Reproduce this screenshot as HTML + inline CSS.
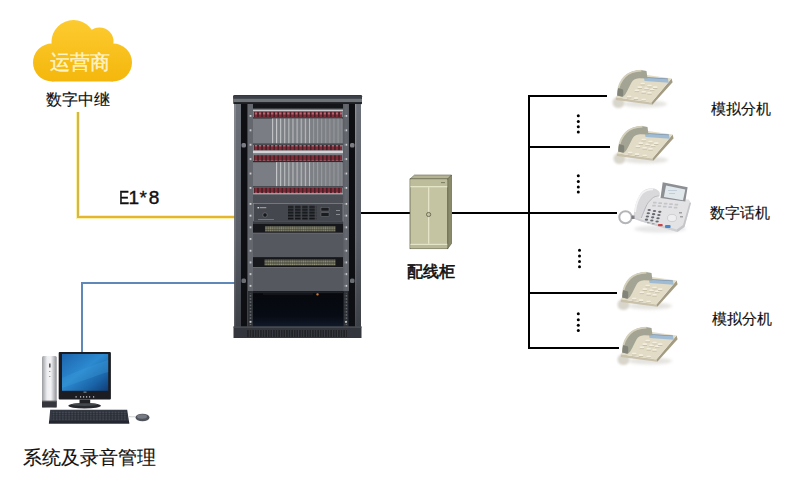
<!DOCTYPE html>
<html><head><meta charset="utf-8">
<style>
html,body{margin:0;padding:0;background:#fff;width:793px;height:478px;overflow:hidden}
body{position:relative;font-family:"Liberation Sans",sans-serif}
svg{position:absolute;left:0;top:0}
.t{position:absolute;white-space:nowrap;line-height:1;color:#111;-webkit-text-stroke:0.15px #111}
</style></head><body>
<svg width="793" height="478" viewBox="0 0 793 478">
<defs>
  <linearGradient id="cloudg" gradientUnits="userSpaceOnUse" x1="0" y1="20" x2="0" y2="82">
    <stop offset="0" stop-color="#fdcb30"/>
    <stop offset="1" stop-color="#f4b70c"/>
  </linearGradient>

  <pattern id="ports" patternUnits="userSpaceOnUse" x="254" y="0" width="4.05" height="8">
    <rect width="4.05" height="8" fill="#2e161b"/>
    <rect x="0.5" y="0" width="3" height="8" fill="#7e2c38"/>
    <rect x="0.9" y="0.5" width="2.2" height="2" fill="#b86a76"/>
  </pattern>
  <pattern id="cards" patternUnits="userSpaceOnUse" x="272" y="0" width="4.1" height="10">
    <rect width="4.1" height="10" fill="#7d8085"/>
    <rect x="0" width="1" height="10" fill="#c4c6c9"/>
  </pattern>
  <pattern id="cards2" patternUnits="userSpaceOnUse" x="272" y="0" width="4.1" height="10">
    <rect width="4.1" height="10" fill="#7d8085"/>
    <rect x="0" width="1" height="10" fill="#9a9ca0"/>
  </pattern>
  <pattern id="holes" patternUnits="userSpaceOnUse" x="0" y="115" width="3" height="14.4">
    <rect width="3" height="14.4" fill="#64676d"/>
    <rect x="0.6" y="0" width="1.8" height="1.8" fill="#d0d2d5"/>
  </pattern>
  <pattern id="holes2" patternUnits="userSpaceOnUse" x="0" y="291" width="3" height="3.2">
    <rect width="3" height="3.2" fill="#2e3136"/>
    <rect x="0.7" y="0.9" width="1.6" height="1.4" fill="#6a6d72"/>
  </pattern>
  <pattern id="vents" patternUnits="userSpaceOnUse" x="288" y="205.5" width="7.1" height="2.9">
    <rect width="7.1" height="2.9" fill="#44474d"/>
    <rect x="0" y="0.6" width="5.6" height="1.8" fill="#111316"/>
  </pattern>
  <pattern id="jacks" patternUnits="userSpaceOnUse" x="265" y="0" width="2.2" height="2.8">
    <rect width="2.2" height="2.8" fill="#3a3b34"/>
    <rect x="0.3" y="0.4" width="1.6" height="1.8" fill="#9a9a80"/>
  </pattern>
  <pattern id="slats" patternUnits="userSpaceOnUse" x="247" y="0" width="2.6" height="7">
    <rect width="2.6" height="7" fill="#3a3d43"/>
    <rect x="0.3" width="1.2" height="7" fill="#16181b"/>
  </pattern>
  <filter id="blur1" x="-50%" y="-50%" width="200%" height="200%"><feGaussianBlur stdDeviation="1"/></filter>
  <filter id="blur2" x="-50%" y="-50%" width="200%" height="200%"><feGaussianBlur stdDeviation="1.8"/></filter>
  <linearGradient id="towerg" x1="0" y1="0" x2="1" y2="0">
    <stop offset="0" stop-color="#9a9ca1"/><stop offset="0.35" stop-color="#eeeff1"/><stop offset="0.6" stop-color="#f4f4f6"/><stop offset="1" stop-color="#8d8f94"/>
  </linearGradient>
  <linearGradient id="screeng" x1="0" y1="0" x2="1" y2="1">
    <stop offset="0" stop-color="#1d64ad"/><stop offset="0.45" stop-color="#2c8ad0"/><stop offset="0.75" stop-color="#1a64a8"/><stop offset="1" stop-color="#0f3d78"/>
  </linearGradient>
  <pattern id="keysp" patternUnits="userSpaceOnUse" x="52" y="411.5" width="3.1" height="2.2">
    <rect width="3.1" height="2.2" fill="#22252c"/>
    <rect x="0.4" y="0.3" width="2.3" height="1.5" fill="#474b55"/>
  </pattern>
  <pattern id="softk" patternUnits="userSpaceOnUse" x="650" y="202" width="4.5" height="3">
    <rect width="4.5" height="3" fill="#dcdde0"/><rect x="0.5" y="0.4" width="3" height="1.2" fill="#a8aaae"/>
  </pattern>
  <pattern id="holesb" patternUnits="userSpaceOnUse" x="0" y="203" width="3" height="11.7">
    <rect width="3" height="11.7" fill="#64676d"/>
    <rect x="0.6" y="0" width="1.8" height="1.8" fill="#d0d2d5"/>
  </pattern>
  <linearGradient id="sideg" gradientUnits="userSpaceOnUse" x1="0" y1="104" x2="0" y2="327">
    <stop offset="0" stop-color="#6c7079"/><stop offset="0.6" stop-color="#585c64"/><stop offset="1" stop-color="#3c3f46"/>
  </linearGradient>
  <linearGradient id="sideg2" gradientUnits="userSpaceOnUse" x1="0" y1="104" x2="0" y2="327">
    <stop offset="0" stop-color="#8a8e96"/><stop offset="0.6" stop-color="#6e7279"/><stop offset="1" stop-color="#45484f"/>
  </linearGradient>
  <linearGradient id="openg" gradientUnits="userSpaceOnUse" x1="0" y1="291" x2="0" y2="327">
    <stop offset="0" stop-color="#06080c"/><stop offset="0.7" stop-color="#070b14"/><stop offset="1" stop-color="#111a2a"/>
  </linearGradient>
</defs>

<!-- lines -->
<rect x="76" y="112" width="4" height="107" fill="#fbf3a0"/>
<rect x="76" y="215" width="160" height="4" fill="#fbf1a8"/>
<rect x="77" y="216" width="159" height="2" fill="#e6b530"/>
<rect x="77" y="112" width="2" height="106" fill="#d3b64c"/>
<rect x="81" y="282" width="155" height="2" fill="#5f87b8"/>
<rect x="81" y="282" width="2" height="70" fill="#5f87b8"/>
<rect x="361" y="212" width="49" height="2" fill="#000"/>
<rect x="452" y="212" width="165" height="2" fill="#000"/>
<rect x="528" y="95" width="2" height="254" fill="#000"/>
<rect x="528" y="95" width="79" height="2" fill="#000"/>
<rect x="528" y="146" width="82" height="2" fill="#000"/>
<rect x="528" y="292" width="89" height="2" fill="#000"/>
<rect x="528" y="347" width="91" height="2" fill="#000"/>

<!-- dots -->
<g fill="#000">
 <circle cx="578.3" cy="115.8" r="1.5"/><circle cx="578.3" cy="121.5" r="1.5"/><circle cx="578.3" cy="126.7" r="1.5"/><circle cx="578.3" cy="131.9" r="1.5"/>
 <circle cx="578.3" cy="175.8" r="1.5"/><circle cx="578.3" cy="181.5" r="1.5"/><circle cx="578.3" cy="186.9" r="1.5"/><circle cx="578.3" cy="192.1" r="1.5"/>
 <circle cx="579.5" cy="250.2" r="1.5"/><circle cx="579.5" cy="256" r="1.5"/><circle cx="579.5" cy="261.6" r="1.5"/><circle cx="579.5" cy="266.8" r="1.5"/>
 <circle cx="578.3" cy="313.8" r="1.5"/><circle cx="578.3" cy="319.7" r="1.5"/><circle cx="578.3" cy="325.3" r="1.5"/><circle cx="578.3" cy="330.5" r="1.5"/>
</g>

<!-- cloud -->
<g fill="url(#cloudg)">
 <circle cx="73.5" cy="42" r="22"/>
 <circle cx="99.5" cy="41.5" r="14"/>
 <circle cx="52" cy="62.5" r="19"/>
 <circle cx="113" cy="62.5" r="19"/>
 <rect x="52" y="43.5" width="61" height="38"/>
</g>

<!-- cabinet -->
<g>
 <polygon points="410,179 414.5,175 451.5,175 447.7,179" fill="#b4b494" stroke="#6a6a52" stroke-width="0.6"/>
 <polygon points="447.7,179 451.5,175 451.5,243.5 447.7,248.7" fill="#8a8a6b" stroke="#55553f" stroke-width="0.6"/>
 <rect x="410" y="179" width="37.7" height="69.7" fill="#c4c4a3" stroke="#55553f" stroke-width="0.7"/>
 <rect x="410.4" y="179.4" width="36.9" height="6.6" fill="#bdbd9c"/>
 <rect x="410.4" y="186" width="36.9" height="1.3" fill="#e4e4c6"/>
 <rect x="441" y="182.3" width="4" height="0.8" fill="#6a6a55"/>
 <rect x="428" y="187.3" width="1.3" height="56.5" fill="#e4e4c6"/>
 <rect x="410.4" y="243.8" width="36.9" height="1.2" fill="#e4e4c6"/>
 <rect x="410.4" y="245" width="36.9" height="3.3" fill="#b9b998"/>
 <circle cx="428.6" cy="214.5" r="2.1" fill="#c4c4a3" stroke="#4a4a3a" stroke-width="0.7"/>
</g>

<!-- rack -->
<g id="rack">
 <rect x="234.5" y="95" width="126.5" height="243" fill="#2a2d33"/>
 <!-- top cap -->
 <rect x="233.3" y="95.2" width="128.7" height="9" rx="1" fill="#1c1e22"/>
 <rect x="233.3" y="95.2" width="128.7" height="3.8" rx="1" fill="#3b3f47"/>
 <rect x="233.3" y="98.8" width="128.7" height="3.3" fill="#6f737a"/>
 <!-- side panels -->
 <rect x="234.5" y="104" width="6.5" height="223" fill="url(#sideg)"/>
 <rect x="234.5" y="104" width="1.3" height="223" fill="url(#sideg2)"/>
 <rect x="355" y="104" width="6" height="223" fill="url(#sideg)"/>
 <rect x="355" y="104" width="1.3" height="223" fill="url(#sideg2)"/>
 <rect x="241" y="104" width="6.5" height="223" fill="#0d0f12"/>
 <rect x="349" y="104" width="6" height="223" fill="#0d0f12"/>
 <!-- handles -->
 <rect x="241.5" y="143" width="4.5" height="4.5" rx="1.5" fill="#7a7d83"/>
 <rect x="350" y="143" width="4.5" height="4.5" rx="1.5" fill="#7a7d83"/>
 <rect x="241.5" y="278.5" width="4.5" height="4.5" rx="1.5" fill="#6a6d73"/>
 <rect x="350" y="278.5" width="4.5" height="4.5" rx="1.5" fill="#6a6d73"/>
 <!-- rails -->
 <rect x="247.5" y="104" width="5.5" height="223" fill="#64676d"/>
 <rect x="343" y="104" width="6" height="223" fill="#5c6066"/>
 <rect x="249" y="104" width="3" height="96" fill="url(#holes)"/>
 <rect x="344.5" y="104" width="3" height="96" fill="url(#holes)"/>
 <rect x="249" y="200" width="3" height="91" fill="url(#holesb)"/>
 <rect x="344.5" y="200" width="3" height="91" fill="url(#holesb)"/>
 <!-- equipment bg -->
 <rect x="253" y="104" width="90" height="5" fill="#131518"/>
 <!-- card cage 1 -->
 <rect x="253" y="108.6" width="90" height="42.5" fill="#7a7d83"/>
 <rect x="253" y="110" width="90" height="1" fill="#c9cacd"/>
 <rect x="254" y="111.8" width="88" height="5.3" fill="url(#ports)"/>
 <rect x="253" y="117.3" width="90" height="1.2" fill="#2a2c30"/>
 <rect x="272" y="118.5" width="38" height="25" fill="url(#cards)"/><rect x="310" y="118.5" width="32" height="25" fill="url(#cards2)"/>
 <rect x="253" y="143.6" width="90" height="1" fill="#2a2c30"/>
 <rect x="254" y="145" width="88" height="5.4" fill="url(#ports)"/>
 <rect x="253" y="150.6" width="90" height="3" fill="#d2d3d6"/>
 <!-- card cage 2 -->
 <rect x="253" y="153.6" width="90" height="40" fill="#7a7d83"/>
 <rect x="254" y="155.2" width="88" height="5.6" fill="url(#ports)"/>
 <rect x="253" y="161" width="90" height="1.2" fill="#2a2c30"/>
 <rect x="276" y="162.2" width="34" height="24.2" fill="url(#cards)"/><rect x="310" y="162.2" width="32" height="24.2" fill="url(#cards2)"/>
 <rect x="253" y="186.4" width="90" height="1" fill="#2a2c30"/>
 <rect x="254" y="187.8" width="88" height="5.4" fill="url(#ports)"/>
 <rect x="253" y="193.4" width="90" height="1.2" fill="#c9cacd"/>
 <!-- blank panel -->
 <rect x="253" y="194.6" width="90" height="8.6" fill="#4c4f55"/>
 <!-- ups -->
 <rect x="253.6" y="203.4" width="89.4" height="18" fill="#44474d" stroke="#8c9096" stroke-width="0.7"/>
 <rect x="257.5" y="207" width="1.6" height="1.4" fill="#d8d9dc"/><rect x="259.8" y="207.2" width="6.5" height="1" fill="#a9abaf"/>
 <circle cx="265" cy="215" r="2.2" fill="#15171a" stroke="#8a8d92" stroke-width="0.5"/>
 <rect x="258" y="219" width="16" height="0.7" fill="#8a8d92"/>
 <rect x="288" y="205.5" width="28.5" height="14.5" fill="url(#vents)"/>
 <rect x="321" y="207.5" width="8" height="3.5" fill="#1a1c20" stroke="#7a7d82" stroke-width="0.4"/>
 <rect x="321" y="212.8" width="8" height="3.5" fill="#1a1c20" stroke="#7a7d82" stroke-width="0.4"/>
 <rect x="336" y="210" width="4" height="0.8" fill="#9a9da2"/>
 <rect x="336" y="214" width="4" height="0.8" fill="#9a9da2"/>
 <!-- patch 1 -->
 <rect x="253" y="221.6" width="90" height="11.2" fill="#15171a"/>
 <rect x="253" y="222" width="90" height="2" fill="#3a3d42"/>
 <rect x="265" y="226" width="70.5" height="5.5" fill="url(#jacks)"/>
 <!-- blank 1 -->
 <rect x="253" y="232.8" width="90" height="24.5" fill="#55585e"/>
 <rect x="253" y="232.8" width="90" height="0.8" fill="#6c7076"/>
 <!-- patch 2 -->
 <rect x="253" y="257.3" width="90" height="9.7" fill="#15171a"/>
 <rect x="264.5" y="259.5" width="71" height="6" fill="url(#jacks)"/>
 <!-- blank 2 -->
 <rect x="253" y="267" width="90" height="24.2" fill="#55585e"/>
 <rect x="253" y="267" width="90" height="0.8" fill="#6c7076"/>
 <!-- open -->
 <rect x="248" y="291.2" width="101" height="36" fill="url(#openg)"/>
 <rect x="253" y="291.2" width="90" height="2" fill="#1e2125"/>
 <rect x="263" y="293.5" width="50" height="1" fill="#2a2d33" opacity="0.6"/><rect x="316.3" y="293.2" width="2.4" height="2.2" rx="1" fill="#c87a3a"/>
 <rect x="248" y="291" width="5" height="36" fill="#2e3136"/><rect x="249" y="293" width="3" height="32" fill="url(#holes2)"/><rect x="249.6" y="321" width="1.8" height="1.8" fill="#c9cbce"/>
 <rect x="343.5" y="291" width="5" height="36" fill="#2e3136"/><rect x="344.5" y="293" width="3" height="32" fill="url(#holes2)"/><rect x="345.1" y="321" width="1.8" height="1.8" fill="#c9cbce"/>
 <!-- base -->
 <rect x="233.5" y="326.5" width="128" height="11.5" fill="#33363c"/>
 <rect x="233.5" y="326.5" width="128" height="1.2" fill="#505359"/>
 <rect x="247" y="330" width="100" height="7" fill="url(#slats)"/>
</g>

<!-- computer -->
<g id="pc">
 <!-- tower -->
 <rect x="42" y="356" width="14.7" height="51.5" rx="1.5" fill="url(#towerg)"/>
 <rect x="42" y="400.8" width="14.7" height="6.7" fill="#34363b"/>
 <rect x="42" y="400.8" width="14.7" height="0.8" fill="#6a6c70"/>
 <rect x="49" y="363.5" width="1.6" height="4" fill="#55575c"/>
 <rect x="49.3" y="371" width="1" height="1" fill="#77797e"/>
 <rect x="49.3" y="376" width="1" height="1" fill="#77797e"/>
 <!-- monitor -->
 <rect x="58.7" y="352" width="52.2" height="47.5" rx="1" fill="#1b1d22"/>
 <rect x="62" y="354" width="46.2" height="36.8" fill="url(#screeng)"/>
 <path d="M62,378 C75,372 90,366 108.2,360 L108.2,372 C95,376 80,382 62,388 Z" fill="#3a9ad8" opacity="0.35"/>
 <g fill="#d8dade"><rect x="75.5" y="396.3" width="1.2" height="1.2"/><rect x="80" y="396.3" width="1.2" height="1.2"/><rect x="83" y="396.3" width="1.2" height="1.2"/><rect x="86" y="396.3" width="1.2" height="1.2"/><rect x="89" y="396.3" width="1.2" height="1.2"/><rect x="93" y="396.3" width="1.2" height="1.2"/></g>
 <rect x="83.5" y="391.6" width="3" height="1" fill="#9a9ca0"/>
 <rect x="79.5" y="399.5" width="10.7" height="4.5" fill="#1f2125"/>
 <ellipse cx="84.6" cy="405.8" rx="16.3" ry="2.8" fill="#26282d"/>
 <ellipse cx="84.6" cy="404.6" rx="13" ry="1.4" fill="#45484d"/>
 <!-- keyboard -->
 <polygon points="50.2,409.7 127.2,409.7 129.3,423.6 48.9,423.6" fill="#343843"/>
 <rect x="52" y="411.5" width="75" height="8.8" fill="url(#keysp)"/>
 <polygon points="49.3,420.8 128.9,420.8 129.3,423.6 48.9,423.6" fill="#23262e"/>
 <!-- mouse -->
 <path d="M129,416.6 C132,417 134,416.8 135.5,416.6" stroke="#b8babe" stroke-width="0.7" fill="none"/>
 <ellipse cx="142.5" cy="417.5" rx="7" ry="3.8" fill="#4f535b"/>
 <ellipse cx="142" cy="416.5" rx="5" ry="2.2" fill="#767a82"/>
</g>

<!-- phones -->
<g id="ph">
 <!-- shadow / cord -->
 <ellipse cx="645" cy="104" rx="22" ry="3.5" fill="#a8a496" opacity="0.3" filter="url(#blur2)"/>
 <ellipse cx="618.5" cy="102.5" rx="6" ry="5.5" fill="#cfcbbf" opacity="0.8" filter="url(#blur1)"/>
 <!-- side faces -->
 <polygon points="615.8,97.2 651.4,102.5 652.3,104.8 615.8,100" fill="#c9c1a9"/>
 <polygon points="651.4,102.5 671.6,78.4 672.6,82.3 652.3,104.8" fill="#a39c82"/>
 <!-- top face -->
 <polygon points="615.8,97.2 629.2,78.4 647,75 671.6,78.4 651.4,102.5" fill="#e2dcc7"/>
 <!-- display -->
 <polygon points="643.7,77 667.7,78.4 668.8,82.8 644.6,81" fill="#a0bcd4"/>
 <polygon points="643.7,77 667.7,78.4 668,79.2 644,77.8" fill="#8298ac"/>
 <!-- keys -->
 <g fill="#f3eee0"><rect x="640.5" y="82.8" width="4.4" height="1.8" rx="0.8"/><rect x="647.3" y="84.8" width="4.4" height="1.8" rx="0.8"/><rect x="653.0" y="86.2" width="4.4" height="1.8" rx="0.8"/><rect x="637.6" y="86.2" width="4.4" height="1.8" rx="0.8"/><rect x="644.4" y="87.6" width="4.4" height="1.8" rx="0.8"/><rect x="650.1" y="88.6" width="4.4" height="1.8" rx="0.8"/><rect x="634.7" y="89.6" width="4.4" height="1.8" rx="0.8"/><rect x="641.5" y="91.0" width="4.4" height="1.8" rx="0.8"/><rect x="647.3" y="92.0" width="4.4" height="1.8" rx="0.8"/><rect x="627.0" y="95.8" width="4.4" height="1.8" rx="0.8"/><rect x="633.8" y="97.3" width="4.4" height="1.8" rx="0.8"/><rect x="641.5" y="98.7" width="4.4" height="1.8" rx="0.8"/></g>
 <g fill="#bfb79e"><rect x="640.5" y="84.6" width="4.4" height="0.7"/><rect x="647.3" y="86.6" width="4.4" height="0.7"/><rect x="653.0" y="88.0" width="4.4" height="0.7"/><rect x="637.6" y="88.0" width="4.4" height="0.7"/><rect x="644.4" y="89.4" width="4.4" height="0.7"/><rect x="650.1" y="90.4" width="4.4" height="0.7"/><rect x="634.7" y="91.4" width="4.4" height="0.7"/><rect x="641.5" y="92.8" width="4.4" height="0.7"/><rect x="647.3" y="93.8" width="4.4" height="0.7"/><rect x="627.0" y="97.6" width="4.4" height="0.7"/><rect x="633.8" y="99.1" width="4.4" height="0.7"/><rect x="641.5" y="100.5" width="4.4" height="0.7"/></g>
 <!-- handset -->
 <path d="M617.2,95.5 C617.5,88 620,81 625,76 C629,72 635,70.2 641,70 L646.5,71 L647.5,78.4 L639,78.2 C635,78.5 633,80 631.5,82.5 C629.5,86 628,90 625.5,94 C624.5,95.5 623.5,96.5 622.5,96.8 Z" fill="#a3a493"/>
 <path d="M617.8,92 C618.5,86 621,80.5 625,76.5 C629,72.6 635,70.7 641.5,70.6" fill="none" stroke="#d5d0bc" stroke-width="1.8"/>
 <path d="M617.2,95.5 C617.3,93 617.5,90.5 618.2,88 L623,89.5 C623.5,92 623.3,95 622.5,96.8 Z" fill="#828479"/>
</g>
<use href="#ph" transform="translate(1,56)"/>
<use href="#ph" transform="translate(5,202)"/>
<use href="#ph" transform="translate(5,257)"/>

<g id="dphone">
 <ellipse cx="660" cy="229" rx="26" ry="3.5" fill="#b0b0b4" opacity="0.3" filter="url(#blur2)"/>
 <!-- cord -->
 <ellipse cx="625.5" cy="217.3" rx="6.2" ry="6" fill="none" stroke="#b4b5b8" stroke-width="2"/>
 <!-- body -->
 <polygon points="643,192 660.5,198 688.7,199.5 691,203 684.5,227 677.4,232 641.3,221.5 633.4,218.5" fill="#e3e3e6"/>
 <polygon points="691,203 684.5,227 677.4,232 676.8,229.5 683,225 689.5,202.5" fill="#c5c6ca"/>
 <polygon points="633.4,218.5 641.3,221.5 677.4,232 677,229.6 641,219.4 634,216.6" fill="#cfd0d3"/>
 <!-- soft keys -->
 <g fill="#c4c5c9"><rect x="653.0" y="201.8" width="3.6" height="1.6" rx="0.5"/><rect x="658.4" y="202.3" width="3.6" height="1.6" rx="0.5"/><rect x="663.8" y="202.8" width="3.6" height="1.6" rx="0.5"/><rect x="669.2" y="203.3" width="3.6" height="1.6" rx="0.5"/><rect x="674.6" y="203.8" width="3.6" height="1.6" rx="0.5"/><rect x="652.2" y="204.8" width="3.6" height="1.6" rx="0.5"/><rect x="657.6" y="205.3" width="3.6" height="1.6" rx="0.5"/><rect x="663.0" y="205.8" width="3.6" height="1.6" rx="0.5"/><rect x="668.4" y="206.3" width="3.6" height="1.6" rx="0.5"/><rect x="673.8" y="206.8" width="3.6" height="1.6" rx="0.5"/></g>
 <!-- dial keys -->
 <g fill="#676a70"><rect x="647.5" y="209.0" width="3.4" height="2.1" rx="3.1"/><rect x="652.8" y="209.9" width="3.4" height="2.1" rx="3.1"/><rect x="658.1" y="210.8" width="3.4" height="2.1" rx="3.1"/><rect x="646.6" y="212.2" width="3.4" height="2.1" rx="3.1"/><rect x="651.9" y="213.1" width="3.4" height="2.1" rx="3.1"/><rect x="657.2" y="214.0" width="3.4" height="2.1" rx="3.1"/><rect x="645.7" y="215.4" width="3.4" height="2.1" rx="3.1"/><rect x="651.0" y="216.3" width="3.4" height="2.1" rx="3.1"/><rect x="656.3" y="217.2" width="3.4" height="2.1" rx="3.1"/><rect x="644.8" y="218.6" width="3.4" height="2.1" rx="3.1"/><rect x="650.1" y="219.5" width="3.4" height="2.1" rx="3.1"/><rect x="655.4" y="220.4" width="3.4" height="2.1" rx="3.1"/></g>
 <ellipse cx="672" cy="218" rx="4.5" ry="3.6" fill="#eeeef0" stroke="#b8b9bd" stroke-width="0.5"/>
 <g fill="#9fa1a5"><rect x="679" y="212" width="3" height="1.5"/><rect x="680" y="216" width="3" height="1.5"/><rect x="652" y="223" width="2.5" height="1.3"/><rect x="647" y="222" width="2.5" height="1.3"/></g>
 <rect x="658" y="224" width="4.7" height="2.3" rx="0.8" fill="#c9474a"/>
 <rect x="665" y="225" width="5.6" height="3" rx="1" fill="#4a86c8"/>
 <!-- display -->
 <polygon points="662.7,182.3 687.6,187.3 685.3,201.4 660.5,198.1" fill="#8c8f94"/>
 <polygon points="666,185.6 685.3,189.6 683,200.3 663.9,196.9" fill="#e1e8ec"/>
 <g fill="#a9bccb"><rect x="668" y="190" width="9" height="0.6"/><rect x="669" y="193" width="6" height="0.6"/></g>
 <!-- handset -->
 <path d="M633.4,217.5 C634.5,208 636,200 641,193 C644,189.5 648,188.3 652,188.2 C655,188.2 658,189.5 659.5,192 C660,194 659.8,195.5 659.3,196 C656,196 654,196.8 652.6,198.1 C649,201 647,204 645.8,207 C644,211 642.5,215 641.3,218 C638.5,219 635.5,218.5 633.4,217.5 Z" fill="#d9d9dc"/>
 <path d="M635,212 C636,204 638,198 642,193.5 C645,190.2 649,189.2 653,189.3" fill="none" stroke="#f3f3f5" stroke-width="1.8"/>
 <path d="M659.3,196 C656,196 654,196.8 652.6,198.1 C649,201 647,204 645.8,207 C644,211 642.5,215 641.3,218" fill="none" stroke="#b3b4b8" stroke-width="0.9"/>
 <rect x="631.5" y="215.5" width="3" height="3.5" fill="#55575c" opacity="0.7"/>
</g>
</svg>

<div class="t" style="left:50px;top:52px;font-size:20px;color:#fff4c8;-webkit-text-stroke:0.35px #fff4c8">运营商</div>
<div class="t" style="left:46px;top:91px;font-size:16.3px">数字中继</div>
<div class="t" style="left:118.6px;top:187.5px;font-size:19px;-webkit-text-stroke:0.45px #111;transform:scaleX(0.8);transform-origin:0 0">E</div>
<div class="t" style="left:128.5px;top:187.5px;font-size:19px;-webkit-text-stroke:0.45px #111">1</div>
<div class="t" style="left:139.5px;top:187.5px;font-size:19px;-webkit-text-stroke:0.3px #111">*</div>
<div class="t" style="left:148.8px;top:187.5px;font-size:19px;-webkit-text-stroke:0.45px #111">8</div>
<div class="t" style="left:407px;top:264.3px;font-size:15.7px;-webkit-text-stroke:0.6px #111">配线柜</div>
<div class="t" style="left:711.3px;top:101.5px;font-size:14.6px">模拟分机</div>
<div class="t" style="left:710.3px;top:206.3px;font-size:14.6px">数字话机</div>
<div class="t" style="left:711.5px;top:312.3px;font-size:14.6px">模拟分机</div>
<div class="t" style="left:23px;top:448px;font-size:19px">系统及录音管理</div>
</body></html>
